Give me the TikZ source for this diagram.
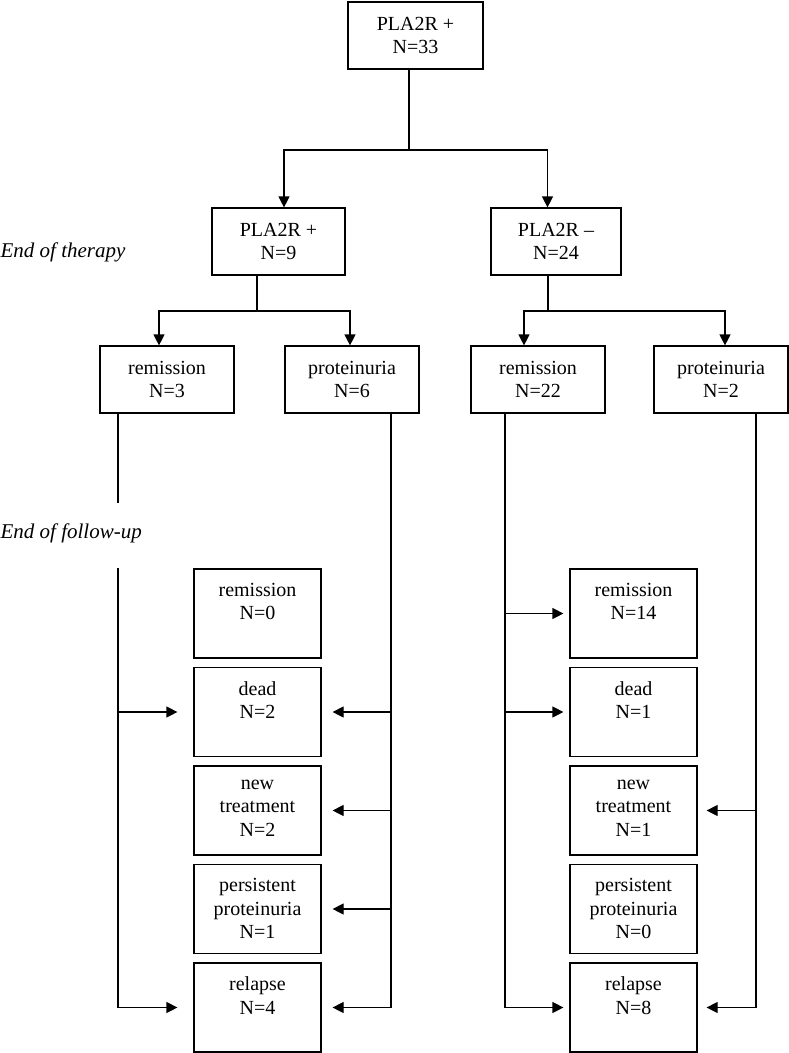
\documentclass[tikz,border=0pt]{standalone}
\usepackage{fontspec}
\setmainfont{Liberation Serif}
\usetikzlibrary{arrows.meta}
\begin{document}
\begin{tikzpicture}[x=1pt,y=-1pt,line width=1.2pt,
    every node/.style={font=\fontsize{20}{23.5}\selectfont},
    box/.style={draw,align=center,inner sep=0pt,minimum width=134pt,minimum height=67pt},
    outbox/.style={draw,minimum width=127pt,minimum height=89pt,inner sep=0pt},
    outtxt/.style={anchor=north,align=center,inner sep=0pt,yshift=-14pt,execute at begin node=\strut},
    stage/.style={font=\fontsize{21}{25}\selectfont\itshape,anchor=base west,inner sep=0pt},
    arr/.style={-{Triangle[length=11pt,width=11pt]}}]
  \useasboundingbox (0,0) rectangle (789,1053);

  % therapy levels
  \node[box,minimum width=135pt] (all) at (415.5,35.5) {PLA2R +\\N=33};
  \node[box,minimum width=133pt] (pos) at (278.5,241.5) {PLA2R +\\N=9};
  \node[box,minimum width=130pt] (neg) at (556,241.5) {PLA2R –\\N=24};
  \node[box] (posrem) at (167,379.5) {remission\\N=3};
  \node[box] (posprot) at (352,379.5) {proteinuria\\N=6};
  \node[box] (negrem) at (538,379.5) {remission\\N=22};
  \node[box] (negprot) at (721,379.5) {proteinuria\\N=2};

  \node[stage] (eot) at (0,257) {End of therapy};
  \node[stage] (efu) at (0,538) {End of follow-up};

  % follow-up outcomes
  \foreach \n/\txt/\a/\b [count=\i] in {rem/remission/0/14, dead/dead/2/1,
      new/{new\\treatment}/2/1, pers/{persistent\\proteinuria}/1/0, rel/relapse/4/8}
  {
    \node[outbox,label={[outtxt]north:\txt\\N=\a}] (l\n) at (257.5,{515+98.5*\i}) {};
    \node[outbox,label={[outtxt]north:\txt\\N=\b}] (r\n) at (633.5,{515+98.5*\i}) {};
  }

  % splits
  \coordinate (s0) at (409,150);
  \draw ([xshift=-6.5pt]all.south) -- (s0);
  \draw[arr] (s0) -| ([xshift=5.5pt]pos.north);
  \draw[arr] (s0) -| ([xshift=-8.5pt]neg.north);
  \coordinate (s1) at (257,311);
  \draw ([xshift=-21.5pt]pos.south) -- (s1);
  \draw[arr] (s1) -| ([xshift=-8pt]posrem.north);
  \draw[arr] (s1) -| ([xshift=-2pt]posprot.north);
  \coordinate (s2) at (548,311);
  \draw ([xshift=-8pt]neg.south) -- (s2);
  \draw[arr] (s2) -| ([xshift=-14pt]negrem.north);
  \draw[arr] (s2) -| ([xshift=4pt]negprot.north);

  % follow-up lines
  \draw ([xshift=-49pt]posrem.south) -- ++(0,89);
  \coordinate (c1) at (118,568);
  \draw[arr] (c1) |- ([xshift=-16pt]lrel.west);
  \draw[arr] (c1 |- ldead.west) -- ([xshift=-16pt]ldead.west);

  \coordinate (c2) at ([xshift=39pt]posprot.south);
  \draw[arr] (c2) |- ([xshift=11pt]lrel.east);
  \foreach \n in {dead,new,pers}
    \draw[arr] (c2 |- l\n.east) -- ([xshift=11pt]l\n.east);

  \coordinate (c3) at ([xshift=-33pt]negrem.south);
  \draw[arr] (c3) |- ([xshift=-6pt]rrel.west);
  \foreach \n in {rem,dead}
    \draw[arr] (c3 |- r\n.west) -- ([xshift=-6pt]r\n.west);

  \coordinate (c4) at ([xshift=35pt]negprot.south);
  \draw[arr] (c4) |- ([xshift=9pt]rrel.east);
  \draw[arr] (c4 |- rnew.east) -- ([xshift=9pt]rnew.east);
\end{tikzpicture}
\end{document}
